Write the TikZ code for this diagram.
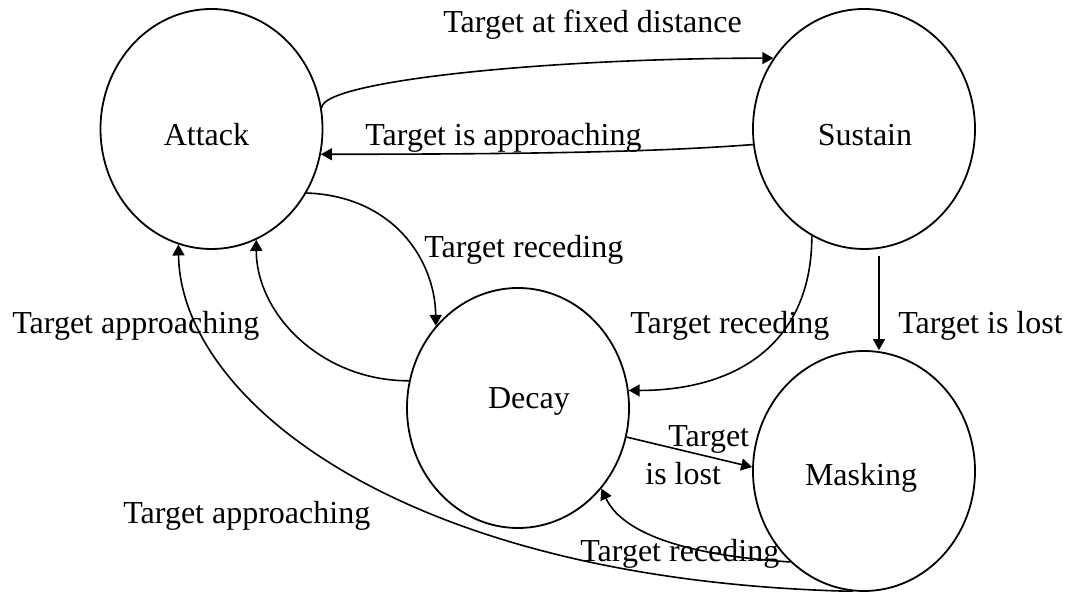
\documentclass[tikz,border=0pt]{standalone}
\usepackage{fontspec}
\setmainfont{Liberation Serif}
\usetikzlibrary{shapes.geometric,arrows.meta}
\begin{document}
\begin{tikzpicture}[x=0.5pt,y=-0.5pt,
  stateE/.style={draw,ellipse,line width=0.9pt,minimum width=111pt,minimum height=120pt,inner sep=0pt},
  lbl/.style={anchor=base west,inner sep=0pt,font=\fontsize{16}{19}\selectfont},
  stxt/.style={anchor=base,inner sep=0pt,font=\fontsize{16}{19}\selectfont},
  arr/.style={line width=0.8pt,-{Triangle[length=5.5pt,width=6pt]}},
  ln/.style={line width=0.8pt}
]
\useasboundingbox (0,0) rectangle (1073,592);
% states
\node[stateE] (attack)  at (211.5,129) {};
\node[stateE] (sustain) at (864,129) {};
\node[stateE] (decay)   at (518,408) {};
\node[stateE] (masking) at (864,471) {};
\node[stxt] (attackT)  at (206.5,146) {Attack};
\node[stxt] (sustainT) at (865,146) {Sustain};
\node[stxt] (decayT)   at (529,409) {Decay};
\node[stxt] (maskingT) at (861,486) {Masking};
% connectors
\draw[arr] (attack.11) .. controls +(2,-27) and +(-223,0) .. (sustain.142);
\draw[arr] (sustain.188) .. controls +(-80,6) and +(250,0) .. (attack.-13);
\draw[arr] (attack.-34) .. controls +(86,3) and +(-1,-67) .. (decay.135);
\draw[arr] (decay.166) .. controls +(-88,0) and +(0,74) .. (attack.-68);
\draw[arr] (masking.265) .. controls +(-453.6,-10.5) and +(2,154) .. (attack.-106);
\draw[arr] (sustain.244) .. controls +(0,105) and +(111,0) .. (decay.9);
\draw[arr] ([xshift=7.5pt,yshift=-3pt]sustain.south) -- ([xshift=7.5pt]masking.north);
\draw[arr] (decay.-15) -- (masking.178);
\draw[arr] (masking.231) .. controls +(-110,-7) and +(20,43) .. (decay.-44);
% labels
\node[lbl] (l1) at (443,33) {Target at fixed distance};
\node[lbl] (l2) at (365,146) {Target is approaching};
\node[lbl] (l3) at (424,258) {Target receding};
\node[lbl] (l4) at (12,334) {Target approaching};
\node[lbl] (l5) at (630,334) {Target receding};
\node[lbl] (l6) at (898,334) {Target is lost};
\node[lbl] (l7a) at (668,447) {Target};
\node[lbl] (l7b) at (645,485) {is lost};
\node[lbl] (l8) at (123,524) {Target approaching};
\node[lbl] (l9) at (580,562) {Target receding};
\end{tikzpicture}
\end{document}
